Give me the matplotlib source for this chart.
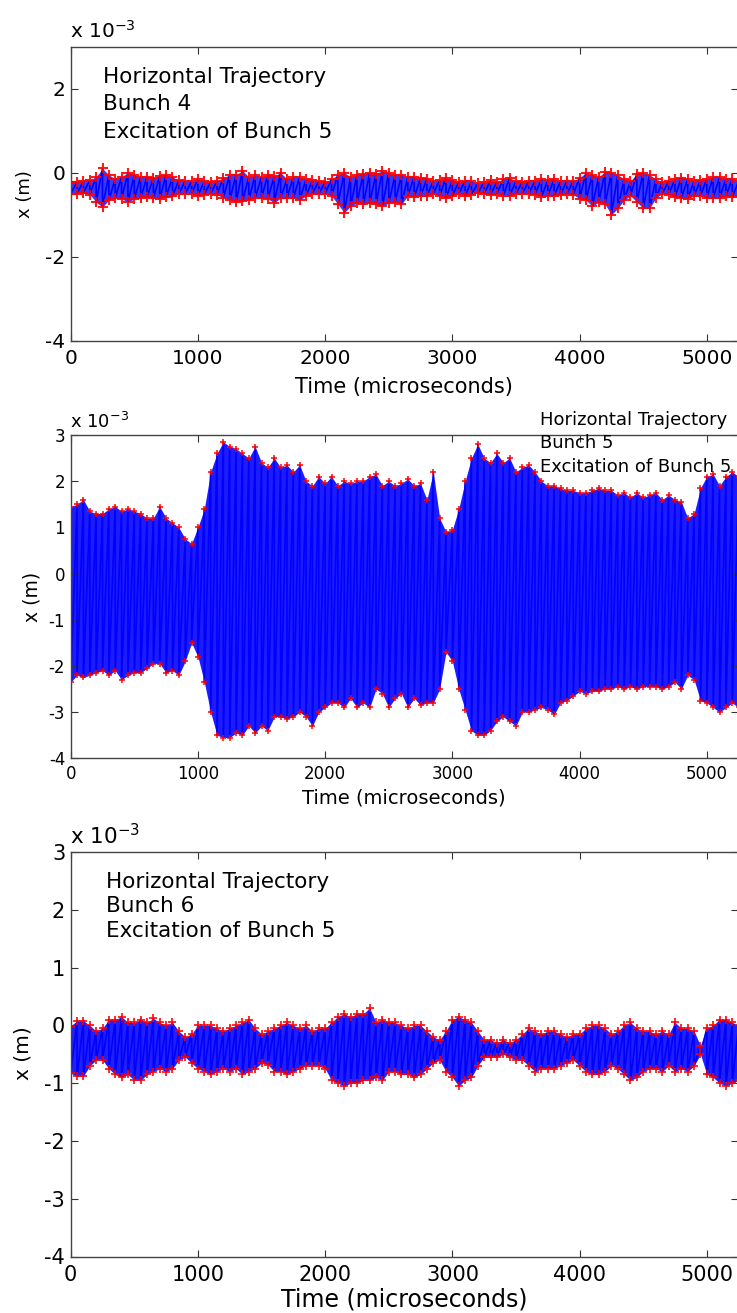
import numpy as np
import matplotlib
matplotlib.use("Agg")
import matplotlib.pyplot as plt

plt.rcParams['font.family'] = ['DejaVu Sans']
plt.rcParams['axes.unicode_minus'] = False

W, H = 737, 1313

# sample times (microseconds) at which the trace envelope was read
TIME_US = np.arange(0, 5251, 50)

# envelope of the horizontal position, in units of 1e-3 m
B4_HI = [-0.22, -0.22, -0.20, -0.18, -0.10, 0.10, -0.05, -0.15, -0.10, 0.00,
         -0.05, -0.10, -0.10, -0.12, -0.08, -0.05, -0.10, -0.18, -0.20, -0.20,
         -0.15, -0.20, -0.22, -0.20, -0.12, -0.05, -0.05, 0.05, -0.10, -0.05,
         -0.10, -0.05, -0.08, 0.00, -0.15, -0.10, -0.10, -0.15, -0.18, -0.20,
         -0.22, -0.15, -0.05, 0.00, -0.10, -0.05, -0.02, 0.00, -0.02, 0.05,
         0.00, -0.05, -0.05,
         -0.10, -0.10, -0.12, -0.15, -0.20, -0.18, -0.12, -0.18, -0.22, -0.20,
         -0.20, -0.25, -0.22, -0.18, -0.22, -0.15, -0.12, -0.20, -0.22, -0.20,
         -0.20, -0.15, -0.18, -0.15, -0.20, -0.20, -0.20, -0.12, 0.00, -0.05,
         -0.10, 0.02, 0.00, -0.05, -0.15, -0.20, -0.02, 0.00, -0.05, -0.15,
         -0.22, -0.20, -0.15, -0.12, -0.15, -0.20, -0.18, -0.15, -0.10, -0.10,
         -0.15, -0.15, -0.20]
B4_LO = [-0.50, -0.50, -0.48, -0.52, -0.70, -0.82, -0.65, -0.60, -0.62, -0.70,
         -0.62, -0.60, -0.58, -0.60, -0.62, -0.58, -0.56, -0.50, -0.50, -0.50,
         -0.55, -0.52, -0.50, -0.52, -0.60, -0.65, -0.70, -0.68, -0.65, -0.60,
         -0.60, -0.62, -0.72, -0.60, -0.60, -0.60, -0.65, -0.55, -0.50, -0.50,
         -0.50, -0.55, -0.75, -0.95, -0.80, -0.72, -0.75, -0.72, -0.75, -0.80,
         -0.72, -0.70, -0.75,
         -0.55, -0.58, -0.55, -0.55, -0.50, -0.55, -0.60, -0.55, -0.50, -0.55,
         -0.52, -0.48, -0.50, -0.52, -0.50, -0.55, -0.55, -0.50, -0.50, -0.50,
         -0.52, -0.58, -0.55, -0.55, -0.52, -0.50, -0.52, -0.62, -0.65, -0.80,
         -0.70, -0.75, -1.00, -0.85, -0.65, -0.55, -0.70, -0.85, -0.85, -0.60,
         -0.50, -0.52, -0.58, -0.60, -0.62, -0.55, -0.55, -0.60, -0.60, -0.60,
         -0.55, -0.58, -0.55]

B5_HI = [1.45, 1.50, 1.60, 1.35, 1.30, 1.30, 1.40, 1.45, 1.35, 1.40,
         1.35, 1.30, 1.20, 1.20, 1.45, 1.20, 1.10, 1.00, 0.75, 0.65,
         1.00, 1.40, 2.20, 2.60, 2.85, 2.75, 2.70, 2.60, 2.50, 2.75,
         2.40, 2.30, 2.50, 2.30, 2.35, 2.20, 2.35, 2.00, 1.90, 2.10,
         1.95, 2.10, 1.90, 2.00, 1.95, 2.00,
         2.00, 2.10, 2.15, 1.90, 2.00, 1.90, 1.95, 2.05, 1.90, 1.95,
         1.60, 2.20, 1.20, 0.90, 0.95, 1.40, 2.00, 2.50, 2.80, 2.50,
         2.40, 2.60, 2.40, 2.50, 2.20, 2.30, 2.35, 2.20, 2.00, 1.90,
         1.90, 1.85, 1.80, 1.80, 1.75, 1.75, 1.80, 1.85, 1.80, 1.80,
         1.70, 1.75, 1.65, 1.75, 1.65, 1.70, 1.75, 1.60, 1.70, 1.60,
         1.55, 1.20, 1.30, 1.85, 2.10, 2.15, 1.90, 2.10, 2.20, 2.10]
B5_LO = [-2.35, -2.20, -2.25, -2.20, -2.15, -2.10, -2.20, -2.10, -2.30, -2.20,
         -2.15, -2.15, -2.05, -1.95, -1.95, -2.15, -2.10, -2.20, -1.90, -1.50,
         -1.80, -2.35, -3.00, -3.50, -3.55, -3.55, -3.45, -3.50, -3.30, -3.45,
         -3.30, -3.40, -3.10, -3.10, -3.15, -3.10, -3.00, -3.10, -3.30, -3.00,
         -2.90, -2.80, -2.80, -2.90, -2.70, -2.90,
         -2.80, -2.90, -2.50, -2.60, -2.90, -2.70, -2.60, -2.90, -2.70, -2.85,
         -2.80, -2.80, -2.50, -1.70, -1.90, -2.50, -2.95, -3.40, -3.50, -3.50,
         -3.40, -3.20, -3.10, -3.20, -3.30, -3.00, -3.00, -2.95, -2.90, -2.95,
         -3.05, -2.80, -2.75, -2.65, -2.55, -2.60, -2.55, -2.55, -2.50, -2.50,
         -2.45, -2.50, -2.45, -2.50, -2.45, -2.45, -2.45, -2.50, -2.45, -2.35,
         -2.50, -2.20, -2.30, -2.75, -2.80, -2.90, -3.00, -2.90, -2.80, -2.90]

B6_HI = [-0.01, 0.08, 0.08, 0.00, -0.10, -0.05, 0.10, 0.10, 0.15, 0.05,
         0.05, 0.10, 0.05, 0.12, 0.05, 0.00, 0.05, -0.10, -0.20, -0.15,
         0.00, 0.00, 0.00, -0.05, -0.10, -0.05, 0.00, 0.05, 0.10, -0.05,
         -0.15, -0.10, -0.05, 0.00, 0.05, 0.00, -0.05, 0.00, -0.10, -0.05,
         -0.05, 0.05, 0.15, 0.20, 0.15, 0.20, 0.20, 0.30, 0.05, 0.10,
         0.05, 0.05, 0.00,
         -0.05, 0.00, 0.00, -0.10, -0.20, -0.25, -0.10, 0.10, 0.15, 0.10,
         0.05, -0.10, -0.25, -0.25, -0.30, -0.25, -0.30, -0.25, -0.15, -0.05,
         -0.10, -0.15, -0.10, -0.10, -0.15, -0.20, -0.15, -0.15, -0.05, 0.00,
         0.00, -0.05, -0.15, -0.10, 0.00, 0.05, -0.05, -0.10, -0.10, -0.15,
         -0.10, -0.15, 0.05, -0.05, -0.05, -0.10, -0.35, -0.05, 0.00, 0.10,
         0.10, 0.05, 0.00]
B6_LO = [-0.83, -0.88, -0.88, -0.70, -0.60, -0.60, -0.75, -0.85, -0.90, -0.85,
         -0.95, -0.95, -0.85, -0.80, -0.75, -0.80, -0.75, -0.60, -0.55, -0.65,
         -0.75, -0.80, -0.85, -0.80, -0.75, -0.80, -0.75, -0.85, -0.80, -0.75,
         -0.65, -0.68, -0.80, -0.80, -0.85, -0.80, -0.75, -0.70, -0.70, -0.70,
         -0.75, -0.95, -1.00, -1.05, -1.00, -1.00, -0.95, -0.95, -0.90, -0.95,
         -0.80, -0.80, -0.85,
         -0.85, -0.90, -0.85, -0.75, -0.65, -0.60, -0.80, -0.90, -1.05, -0.95,
         -0.90, -0.70, -0.55, -0.55, -0.55, -0.50, -0.55, -0.60, -0.60, -0.70,
         -0.80, -0.75, -0.75, -0.75, -0.70, -0.65, -0.60, -0.70, -0.80, -0.85,
         -0.85, -0.80, -0.70, -0.75, -0.85, -0.95, -0.90, -0.80, -0.75, -0.75,
         -0.80, -0.70, -0.80, -0.75, -0.80, -0.70, -0.50, -0.85, -0.90, -1.00,
         -1.05, -1.00, -0.95]

XTICKS = [0, 1000, 2000, 3000, 4000, 5000]
ANNOT = "Horizontal Trajectory\nBunch {}\nExcitation of Bunch 5"


def px_text(fig, x, y, s, **kw):
    # place text using pixel coords measured from the top-left corner
    return fig.text(x / W, 1 - y / H, s, **kw)


def draw_trace(ax, hi, lo, fill, ms, mew):
    hi = np.asarray(hi)
    lo = np.asarray(lo)
    ax.fill_between(TIME_US, lo, hi, color=fill, lw=0, zorder=1)
    xs = np.repeat(TIME_US, 2)
    ys = np.column_stack([hi, lo]).ravel()
    ax.plot(xs, ys, color='#0000ff', lw=1.2, zorder=2)
    ax.plot(xs, ys, ls='none', marker='+', color='#ff0000', ms=ms, mew=mew,
            alpha=0.9, zorder=3)


def style_axes(ax, yticks, fs, xpad, ypad):
    ax.set_xlim(0, 5245)
    ax.set_ylim(-4, 3)
    ax.set_xticks(XTICKS)
    ax.set_yticks(yticks)
    ax.tick_params(direction='in', top=True, right=True, length=5, width=0.8,
                   labelsize=fs, color='#333333')
    ax.tick_params(axis='x', pad=xpad)
    ax.tick_params(axis='y', pad=ypad)
    for sp in ax.spines.values():
        sp.set_color('#444444')
        sp.set_linewidth(1.0)


fig = plt.figure(figsize=(W / 100, H / 100), dpi=100)

# panel positions in pixels: (top, bottom)
panels = [
    (46.7, 340.7, B4_HI, B4_LO, [-4, -2, 0, 2], 14.5, 6, 4, '#3a3aff', 6.5, 1.5),
    (435.0, 758.3, B5_HI, B5_LO, [-4, -3, -2, -1, 0, 1, 2, 3], 12.0, 5, 4, '#1c1cff', 4.5, 1.2),
    (852.0, 1256.5, B6_HI, B6_LO, [-4, -3, -2, -1, 0, 1, 2, 3], 15.0, 6, 4, '#2020ff', 5.5, 1.3),
]
for top, bot, hi, lo, yt, fs, xpad, ypad, fill, ms, mew in panels:
    ax = fig.add_axes([70.7 / W, 1 - bot / H, (738 - 70.7) / W, (bot - top) / H])
    draw_trace(ax, hi, lo, fill, ms, mew)
    style_axes(ax, yt, fs, xpad, ypad)

# axis labels
px_text(fig, 404, 387, "Time (microseconds)", fontsize=15, ha='center', va='center')
px_text(fig, 404, 798, "Time (microseconds)", fontsize=14, ha='center', va='center')
px_text(fig, 404, 1300, "Time (microseconds)", fontsize=17, ha='center', va='center')
px_text(fig, 25, 194, "x (m)", fontsize=13, rotation=90, ha='center', va='center')
px_text(fig, 32, 597, "x (m)", fontsize=13.5, rotation=90, ha='center', va='center')
px_text(fig, 23, 1053, "x (m)", fontsize=14.5, rotation=90, ha='center', va='center')

# exponent labels
px_text(fig, 70, 38, r"x 10$^{-3}$", fontsize=14.5, va='baseline')
px_text(fig, 70, 428, r"x 10$^{-3}$", fontsize=13, va='baseline')
px_text(fig, 70, 844, r"x 10$^{-3}$", fontsize=15.5, va='baseline')

# annotations
for x, y0, dy, n, fs in [(103, 82.7, 27.7, 4, 15.5), (540, 425, 23.4, 5, 13),
                         (105.7, 888, 24.5, 6, 15.5)]:
    for i, line in enumerate(ANNOT.format(n).split("\n")):
        px_text(fig, x, y0 + i * dy, line, fontsize=fs, va='baseline')

fig.savefig("out.png", dpi=100)
